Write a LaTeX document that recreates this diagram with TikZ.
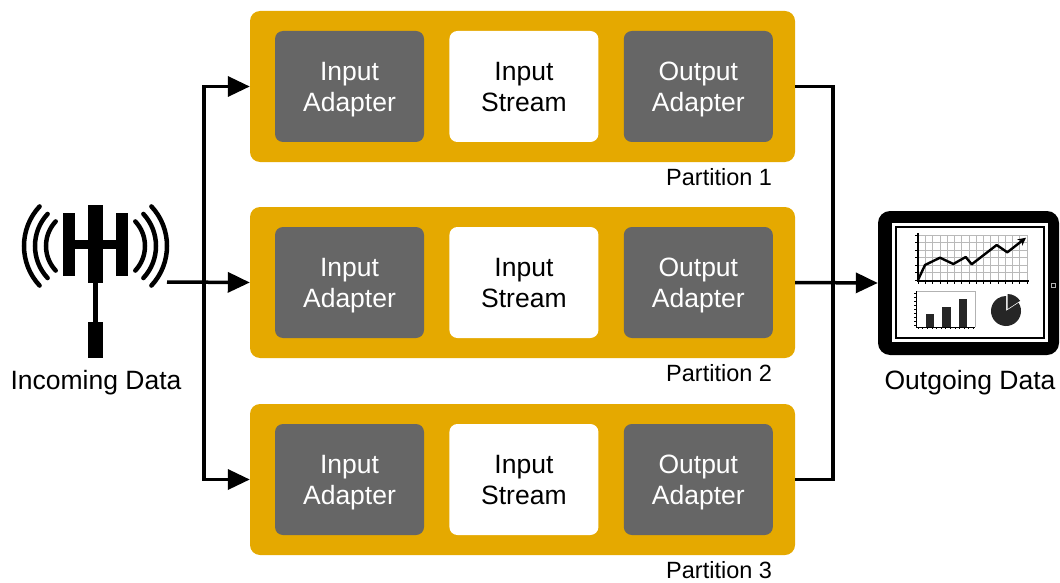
\documentclass[tikz,border=0pt]{standalone}
\usepackage{fontspec}
\setmainfont{Liberation Sans}
\usetikzlibrary{positioning,arrows.meta}
\definecolor{partgold}{RGB}{229,169,0}
\definecolor{adaptergray}{RGB}{102,102,102}

\begin{document}
\begin{tikzpicture}[
    x=1pt, y=-1pt,
    part/.style={fill=partgold, rounded corners=10pt, minimum width=545pt,
                 minimum height=151pt, inner sep=0pt},
    unit/.style={rounded corners=8pt, minimum width=149pt, minimum height=111pt,
                 align=center, inner sep=0pt, text depth=0pt,
                 font=\fontsize{26.5}{31}\selectfont},
    adapter/.style={unit, fill=adaptergray, text=white},
    stream/.style={unit, fill=white},
    plabel/.style={font=\fontsize{23.5}{28}\selectfont, inner sep=0pt},
    caption/.style={font=\fontsize{26.5}{31}\selectfont, inner sep=0pt},
    link/.style={line width=3.5pt},
    flow/.style={link, -{Triangle[length=22pt,width=20pt]}},
    wave/.style={line width=4.5pt, line cap=round},
    gridline/.style={gray!55, line width=0.6pt},
]
\useasboundingbox (0,0) rectangle (1060,583);

% Partition 1
\node[part] (part1) at (522.5,86.5) {};
\node[adapter, right=25pt of part1.west] (inad1) {Input\\Adapter};
\node[stream, right=25pt of inad1] (instr1) {Input\\Stream};
\node[adapter, right=25pt of instr1] (outad1) {Output\\Adapter};
\node[plabel, below left=6.5pt and 23pt of part1.south east] (plab1) {Partition 1};

% Partition 2
\node[part] (part2) at (522.5,282.5) {};
\node[adapter, right=25pt of part2.west] (inad2) {Input\\Adapter};
\node[stream, right=25pt of inad2] (instr2) {Input\\Stream};
\node[adapter, right=25pt of instr2] (outad2) {Output\\Adapter};
\node[plabel, below left=6.5pt and 23pt of part2.south east] (plab2) {Partition 2};

% Partition 3
\node[part] (part3) at (522.5,479.5) {};
\node[adapter, right=25pt of part3.west] (inad3) {Input\\Adapter};
\node[stream, right=25pt of inad3] (instr3) {Input\\Stream};
\node[adapter, right=25pt of instr3] (outad3) {Output\\Adapter};
\node[plabel, below left=6.5pt and 23pt of part3.south east] (plab3) {Partition 3};

% Antenna (incoming side)
\fill (63,213) rectangle (75,276);
\fill (116,213) rectangle (128,276);
\fill (88,205) rectangle (103,283);
\fill (75,240) rectangle (116,249);
\fill (93,283) rectangle (98,322);
\fill (88,322) rectangle (103,358);
\draw[wave] ([shift={(137:58)}]82,246) arc[start angle=137, end angle=223, radius=58];
\draw[wave] ([shift={(137:47)}]82,246) arc[start angle=137, end angle=223, radius=47];
\draw[wave] ([shift={(137:36)}]82,246) arc[start angle=137, end angle=223, radius=36];
\draw[wave] ([shift={(-43:58)}]109,246) arc[start angle=-43, end angle=43, radius=58];
\draw[wave] ([shift={(-43:47)}]109,246) arc[start angle=-43, end angle=43, radius=47];
\draw[wave] ([shift={(-43:36)}]109,246) arc[start angle=-43, end angle=43, radius=36];
\node[caption] (inlabel) at (96,383) {Incoming Data};

% Tablet (outgoing side)
\node[fill=black, rounded corners=12pt, minimum width=181pt, minimum height=144pt,
      inner sep=0pt] (tab) at (968.5,283) {};
\fill[white] (892,223) rectangle (1048,342);
\draw[line width=1.5pt] (896,227) rectangle (1044,338);
\draw[gray!60, line width=0.6pt] (1051.5,283.5) rectangle (1055,287);
% line chart
\foreach \gx in {0,...,15}
    \draw[gridline] ({918+\gx*7.27},235) -- ({918+\gx*7.27},280);
\foreach \gy in {0,...,6}
    \draw[gridline] (918,{235+\gy*7.5}) -- (1027,{235+\gy*7.5});
\foreach \gy in {0,...,6}
    \draw[line width=0.6pt] (915,{235+\gy*7.5}) -- (918,{235+\gy*7.5});
\foreach \gx in {0,...,15}
    \draw[line width=0.6pt] ({918+\gx*7.27},281) -- ({918+\gx*7.27},284);
\draw[line width=1.3pt] (918,233) -- (918,281) -- (1029,281);
\draw[line width=2.4pt, line join=round, -{Stealth[length=8pt,width=8pt]}]
    (918,280) -- (925,265) -- (940,257.7) -- (953.3,264) -- (965.7,257)
    -- (971.7,264.3) -- (996.7,245) -- (1007.3,252.3) -- (1026,237.7);
% bar chart
\draw[gray!60, line width=0.6pt] (916,291) -- (975,291) -- (975,327);
\foreach \ty in {0,...,8}
    \draw[line width=0.5pt] (914,{293+\ty*4}) -- (916,{293+\ty*4});
\foreach \tx in {0,...,12}
    \draw[line width=0.5pt] ({918+\tx*4.6},327) -- ({918+\tx*4.6},329);
\draw[line width=1pt] (916,291) -- (916,327) -- (975,327);
\fill[black!85] (926,314) rectangle (934,327);
\fill[black!85] (942,307) rectangle (951,327);
\fill[black!85] (959,299) rectangle (967,327);
% pie chart, one slice pulled out
\fill[black!85] (1006,311) -- ++(-33:15) arc[start angle=-33, end angle=270, radius=15] -- cycle;
\fill[black!85] (1007.5,309) -- ++(-90:15) arc[start angle=-90, end angle=-33, radius=15] -- cycle;
\node[caption] (outlabel) at (970,383) {Outgoing Data};

% Fan-out to the partitions
\coordinate (ant) at (167,282);
\coordinate (split) at (204,282);
\draw[flow] (ant) -- (part2.west);
\draw[flow] (split) |- (part1.west);
\draw[flow] (split) |- (part3.west);

% Merge into the output
\coordinate (merge) at (833,282);
\draw[link] (part1.east) -| (merge);
\draw[link] (part3.east) -| (merge);
\draw[flow] (part2.east) -- (tab.west);
\end{tikzpicture}
\end{document}
